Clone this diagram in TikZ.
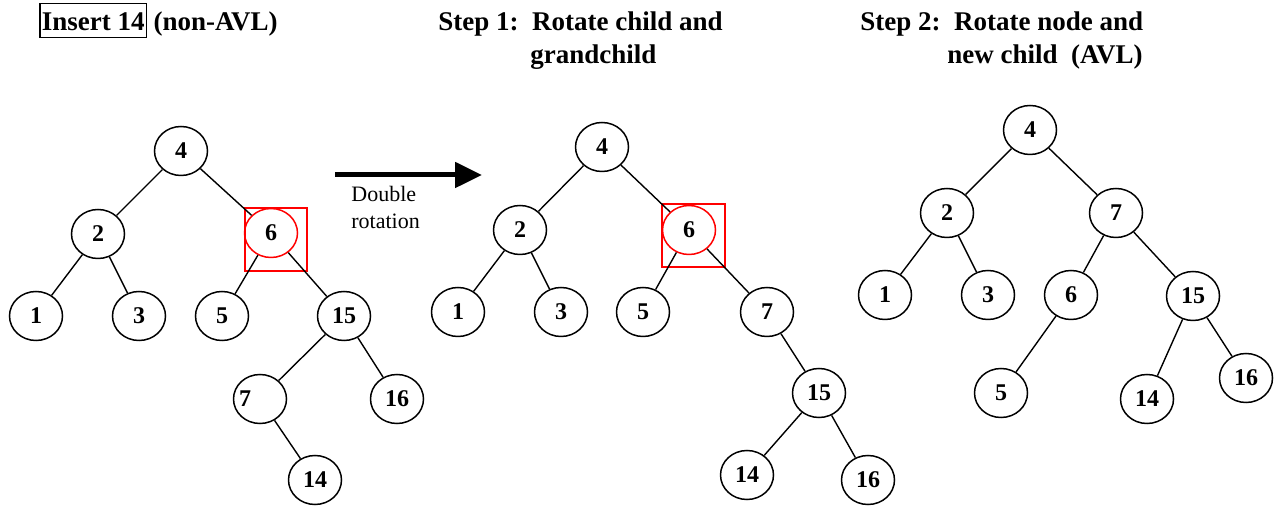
\documentclass[tikz,border=0pt]{standalone}
\usepackage{fontspec}
\setmainfont{Liberation Serif}
\usetikzlibrary{shapes.geometric,arrows.meta}
\begin{document}
\begin{tikzpicture}[x=0.5pt,y=-0.5pt,
  nd/.style={ellipse,draw,line width=0.75pt,minimum width=26.5pt,minimum height=24.5pt,inner sep=0pt,font=\fontsize{12}{12}\selectfont\bfseries},
  rednd/.style={nd,draw=red},
  edge/.style={line width=0.7pt},
  ttl/.style={anchor=base west,inner sep=0pt,font=\fontsize{13.5}{16}\selectfont\bfseries},
  redbox/.style={draw=red,line width=0.6pt},
  bigarrow/.style={line width=2.5pt,-{Triangle[length=13.5pt,width=12.5pt]}},
  note/.style={align=left,inner sep=0pt,font=\fontsize{11}{13.5}\selectfont}]
\useasboundingbox (0,0) rectangle (1277,506);

% titles
\node[ttl] (t1) at (39,31) {\setlength{\fboxsep}{0.5pt}\setlength{\fboxrule}{0.7pt}\fbox{\rule[-2.5pt]{0pt}{15.5pt}Insert 14} (non-AVL)};
\node[ttl] (t2a) at (438,31) {Step 1:\ \ Rotate child and};
\node[ttl] (t2b) at (530,64) {grandchild};
\node[ttl] (t3a) at (860,31) {Step 2:\ \ Rotate node and};
\node[ttl] (t3b) at (947,64) {new child\ \ (AVL)};

% arrow
\coordinate (arS) at (335,175);
\coordinate (arE) at (482,175);
\draw[bigarrow] (arS) -- (arE);
\node[note,anchor=north west] (dbl) at (351,186) {Double\\rotation};

% tree 1
\node[nd] (a4) at (181,151) {4};
\node[nd] (a2) at (98,234) {2};
\node[rednd] (a6) at (271,233) {6};
\node[nd] (a1) at (36,316) {1};
\node[nd] (a3) at (139,316) {3};
\node[nd] (a5) at (222,316) {5};
\node[nd] (a15) at (344,316) {15};
\node[nd] (a7) at (260,399) {\makebox[0pt]{\makebox[21pt][l]{7}}};
\node[nd] (a16) at (397,399) {16};
\node[nd] (a14) at (315,480) {14};
\draw[redbox] (245,208) rectangle (307,271);
\draw[edge] (a4) -- (a2);
\draw[edge] (a4) -- (a6);
\draw[edge] (a2) -- (a1);
\draw[edge] (a2) -- (a3);
\draw[edge] (a6) -- (a5);
\draw[edge] (a6) -- (a15);
\draw[edge] (a15) -- (a7);
\draw[edge] (a15) -- (a16);
\draw[edge] (a7) -- (a14);

% tree 2
\node[nd] (b4) at (602,147) {4};
\node[nd] (b2) at (520,230) {2};
\node[rednd] (b6) at (689,230) {6};
\node[nd] (b1) at (458,312) {1};
\node[nd] (b3) at (561,312) {3};
\node[nd] (b5) at (643,312) {5};
\node[nd] (b7) at (767,312) {7};
\node[nd] (b15) at (819,393) {15};
\node[nd] (b14) at (747,475) {14};
\node[nd] (b16) at (868,480) {16};
\draw[redbox] (662,204) rectangle (725,267);
\draw[edge] (b4) -- (b2);
\draw[edge] (b4) -- (b6);
\draw[edge] (b2) -- (b1);
\draw[edge] (b2) -- (b3);
\draw[edge] (b6) -- (b5);
\draw[edge] (b6) -- (b7);
\draw[edge] (b7) -- (b15);
\draw[edge] (b15) -- (b14);
\draw[edge] (b15) -- (b16);

% tree 3
\node[nd] (c4) at (1030,130) {4};
\node[nd] (c2) at (947,213) {2};
\node[nd] (c7) at (1116,213) {7};
\node[nd] (c1) at (885,295) {1};
\node[nd] (c3) at (988,295) {3};
\node[nd] (c6) at (1071,295) {6};
\node[nd] (c15) at (1193,296) {15};
\node[nd] (c5) at (1001,393) {5};
\node[nd] (c14) at (1147,399) {14};
\node[nd] (c16) at (1246,378) {16};
\draw[edge] (c4) -- (c2);
\draw[edge] (c4) -- (c7);
\draw[edge] (c2) -- (c1);
\draw[edge] (c2) -- (c3);
\draw[edge] (c7) -- (c6);
\draw[edge] (c7) -- (c15);
\draw[edge] (c6) -- (c5);
\draw[edge] (c15) -- (c14);
\draw[edge] (c15) -- (c16);
\end{tikzpicture}
\end{document}
